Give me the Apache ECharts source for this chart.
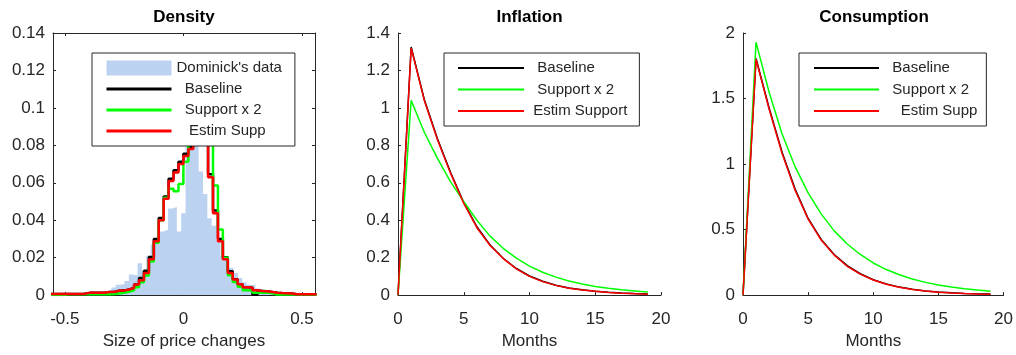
<!DOCTYPE html>
<html><head><meta charset="utf-8">
<script src="https://cdn.jsdelivr.net/npm/echarts@6/dist/echarts.min.js"></script>
<style>html,body{margin:0;padding:0;background:#fff}#c{width:1016px;height:355px}</style>
</head><body><div id="c"></div>
<script>
// ---------- Density panel data ----------
const MODEL_EDGES = [-0.5616,-0.5408,-0.52,-0.4992,-0.4784,-0.4576,-0.4368,-0.416,-0.3952,-0.3744,-0.3536,-0.3328,-0.312,-0.2912,-0.2704,-0.2496,-0.2288,-0.208,-0.1872,-0.1664,-0.1456,-0.1248,-0.104,-0.0832,-0.0624,-0.0416,-0.0208,0,0.0208,0.0416,0.0624,0.0832,0.104,0.1248,0.1456,0.1664,0.1872,0.208,0.2288,0.2496,0.2704,0.2912,0.312,0.3328,0.3536,0.3744,0.3952,0.416,0.4368,0.4576,0.4784,0.4992,0.52,0.5408,0.5616];
const ESTIM_DENS = [0.0006,0.0006,0.0006,0.0006,0.0006,0.0006,0.0007,0.0012,0.0012,0.0012,0.0013,0.0017,0.0017,0.0023,0.0024,0.0030,0.0038,0.0056,0.0079,0.0118,0.0192,0.0288,0.0400,0.0515,0.0610,0.0655,0.0700,
  0.0743,0.0780,0.0860,0.0900,0.0880,0.0630,0.0437,0.0288,0.0192,0.0118,0.0083,0.0058,0.0042,0.0040,0.0026,0.0022,0.0020,0.0017,0.0013,0.0011,0.0010,0.0009,0.0005,0.0004,0.0004,0.0004,0.0004];
const BASELINE_DENS = [0.0006,0.0006,0.0006,0.0006,0.0006,0.0006,0.0007,0.0012,0.0012,0.0012,0.0013,0.0017,0.0017,0.0023,0.0024,0.0030,0.0038,0.0056,0.0091,0.0130,0.0204,0.0300,0.0412,0.0527,0.0622,0.0667,0.0712,
  0.0755,0.0792,0.0870,0.0910,0.0890,0.0645,0.0452,0.0300,0.0202,0.0128,0.0085,0.0058,0.0042,0.0040,0.0002,0.0022,0.0020,0.0017,0.0013,0.0011,0.0010,0.0009,0.0005,0.0004,0.0004,0.0004,0.0004];
const SUPPORT2_DENS = [0,0,0.0002,0.0004,0.0004,0.0004,0.0004,0.0004,0.0004,0.0004,0.0004,0.0005,0.0006,0.0009,0.0012,0.0018,0.0026,0.0042,0.0068,0.0105,0.0180,0.0280,0.0400,0.0520,0.0568,0.0555,0.0594,
  0.0712,0.0900,0.1050,0.1100,0.1050,0.0950,0.0585,0.0350,0.0200,0.0106,0.0070,0.0045,0.0026,0.0024,0.0012,0.0012,0.0012,0.0010,0.0003,0.0003,0.0003,0.0003,0.0003,0.0003,0.0003,0.0003,0.0003];
const HIST_EDGES = [-0.5430,-0.5246,-0.5062,-0.4878,-0.4694,-0.4510,-0.4326,-0.4142,-0.3958,-0.3774,-0.3590,-0.3406,-0.3222,-0.3038,-0.2854,-0.2670,-0.2486,-0.2302,-0.2118,-0.1934,-0.1750,-0.1566,-0.1382,-0.1198,-0.1014,-0.0830,-0.0646,-0.0462,-0.0278,-0.0094,0.0090,0.0274,0.0458,0.0642,0.0826,0.1010,0.1194,0.1378,0.1562,0.1746,0.1930,0.2114,0.2298,0.2482,0.2666,0.2850,0.3034,0.3218,0.3402,0.3586,0.3770,0.3954,0.4138,0.4322,0.4506,0.4690,0.4874,0.5058,0.5242,0.5426];
const HIST_DENS = [0.0003,0.0003,0.0004,0.0005,0.0006,0.0008,0.0017,0.0017,0.0014,0.0012,
  0.0012,0.0016,0.0026,0.0040,0.0055,0.0058,0.0075,0.0110,0.0105,0.0170,
  0.0130,0.0210,0.0270,0.0290,0.0340,0.0350,0.0463,0.0470,0.0340,0.0437,
  0.0950,0.1050,0.1000,0.0660,0.0540,0.0410,0.0370,0.0290,0.0210,0.0200,
  0.0145,0.0118,0.0092,0.0068,0.0055,0.0052,0.0035,0.0026,0.0026,0.0022,
  0.0014,0.0017,0.0008,0.0005,0.0004,0.0003,0.0002,0.0002,0.0002];
const DENS_X_TICKS = [-0.5, 0, 0.5];

// ---------- Impulse responses ----------
const MONTHS = [0,1,2,3,4,5,6,7,8,9,10,11,12,13,14,15,16,17,18,19];
const INFL_BASE = [0,1.325,1.045,0.835,0.655,0.495,0.365,0.268,0.197,0.142,0.102,0.074,0.053,0.038,0.028,0.021,0.015,0.011,0.008,0.006];
const INFL_SUP2 = [0,1.04,0.87,0.73,0.605,0.50,0.40,0.315,0.25,0.197,0.155,0.122,0.096,0.075,0.059,0.046,0.036,0.028,0.022,0.016];
const INFL_EST  = [0,1.32,1.04,0.83,0.65,0.49,0.36,0.265,0.195,0.14,0.10,0.072,0.052,0.037,0.027,0.02,0.014,0.01,0.007,0.005];
const CONS_BASE = [0,1.805,1.43,1.09,0.81,0.585,0.425,0.31,0.225,0.163,0.117,0.085,0.061,0.044,0.032,0.023,0.017,0.013,0.01,0.008];
const CONS_SUP2 = [0,1.93,1.55,1.23,0.98,0.78,0.62,0.49,0.39,0.31,0.245,0.195,0.155,0.123,0.097,0.077,0.061,0.048,0.038,0.03];
const CONS_EST  = [0,1.80,1.42,1.08,0.80,0.58,0.42,0.305,0.22,0.16,0.115,0.083,0.06,0.043,0.031,0.022,0.016,0.012,0.009,0.007];

const TITLES = ['Density', 'Inflation', 'Consumption'];

// ---------- helpers ----------
const TXT = '#262626';
const FONT = "'Liberation Sans', Arial, Helvetica, sans-serif";
const BLUE = '#bcd2f1', BLACK = '#000000', GREEN = '#00ff00', RED = '#ff0000';

function stepData(edges, vals) {
  const d = vals.map((v, i) => [edges[i], v]);
  d.push([edges[vals.length], vals[vals.length - 1]]);
  return d;
}
function irf(vals) { return MONTHS.map((m, i) => [m, vals[i]]); }

const axisLine = { show: true, onZero: false, lineStyle: { color: TXT, width: 1 } };
const tick = { show: true, inside: true, length: 3, lineStyle: { color: TXT, width: 1 } };
const xLabel = { color: TXT, fontSize: 17, fontFamily: FONT, margin: 16 };
const yLabel = { color: TXT, fontSize: 17, fontFamily: FONT, margin: 8 };
const nameStyle = { color: TXT, fontSize: 17, fontFamily: FONT };

function lineSeries(name, data, color, width, xi, yi, step) {
  const s = { type: 'line', name, data, xAxisIndex: xi, yAxisIndex: yi, symbol: 'none',
    color, lineStyle: { color, width }, itemStyle: { color }, silent: true };
  if (step) s.step = 'end';
  return s;
}

function makeLegend(left, names, pad, padding, iconWidth, lineW, gap) {
  return {
    orient: 'vertical', left, top: 53, itemWidth: iconWidth, itemHeight: 15, itemGap: gap,
    padding, borderColor: TXT, borderWidth: 1, backgroundColor: '#ffffff', borderRadius: 0,
    selectedMode: false, z: 10,
    textStyle: { color: TXT, fontSize: 15, fontFamily: FONT },
    itemStyle: { opacity: 0 },
    lineStyle: { width: lineW, opacity: 1 },
    formatter: (n) => (pad[n] || '') + n,
    data: names
  };
}

const chart = echarts.init(document.getElementById('c'), null, { renderer: 'canvas' });
const titleFont = "bold 17px 'Liberation Sans', Arial, sans-serif";

const option = {
  animation: false,
  backgroundColor: '#ffffff',
  textStyle: { fontFamily: FONT },
  grid: [
    { left: 53, top: 33, width: 262, height: 267 },
    { left: 398, top: 33, width: 263, height: 268 },
    { left: 743, top: 33, width: 262, height: 267 }
  ],
  xAxis: [
    { type: 'value', gridIndex: 0, position: 'bottom', min: -0.55, max: 0.555,
      axisLine, axisTick: Object.assign({}, tick, { customValues: DENS_X_TICKS }),
      axisLabel: Object.assign({}, xLabel, { customValues: DENS_X_TICKS }),
      splitLine: { show: false },
      name: 'Size of price changes', nameLocation: 'middle', nameGap: 37, nameTextStyle: nameStyle },
    { type: 'value', gridIndex: 0, position: 'top', min: -0.55, max: 0.555,
      axisLine, axisTick: Object.assign({}, tick, { customValues: DENS_X_TICKS }),
      axisLabel: { show: false }, splitLine: { show: false } },
    { type: 'value', gridIndex: 1, min: 0, max: 20, interval: 5, axisLine, axisTick: tick,
      axisLabel: xLabel, splitLine: { show: false },
      name: 'Months', nameLocation: 'middle', nameGap: 37, nameTextStyle: nameStyle },
    { type: 'value', gridIndex: 2, min: 0, max: 20, interval: 5, axisLine, axisTick: tick,
      axisLabel: xLabel, splitLine: { show: false },
      name: 'Months', nameLocation: 'middle', nameGap: 37, nameTextStyle: nameStyle }
  ],
  yAxis: [
    { type: 'value', gridIndex: 0, position: 'left', min: 0, max: 0.14, interval: 0.02,
      axisLine, axisTick: tick, axisLabel: yLabel, splitLine: { show: false } },
    { type: 'value', gridIndex: 0, position: 'right', min: 0, max: 0.14, interval: 0.02,
      axisLine, axisTick: tick, axisLabel: { show: false }, splitLine: { show: false } },
    { type: 'value', gridIndex: 1, min: 0, max: 1.4, interval: 0.2,
      axisLine, axisTick: tick, axisLabel: yLabel, splitLine: { show: false } },
    { type: 'value', gridIndex: 2, min: 0, max: 2, interval: 0.5,
      axisLine, axisTick: tick, axisLabel: yLabel, splitLine: { show: false } }
  ],
  legend: [
    makeLegend(92, [
      { name: "Dominick's data", icon: 'rect', itemStyle: { color: BLUE, opacity: 1, borderWidth: 0 } },
      'Baseline', 'Support x 2', 'Estim Supp'
    ], { 'Baseline': '  ', 'Support x 2': '  ', 'Estim Supp': '   ' }, [7.5, 13, 7.5, 13], 65, 3, 6),
    makeLegend(444, ['Baseline', 'Support x 2', 'Estim Support'],
      { 'Baseline': '  ', 'Support x 2': '  ', 'Estim Support': ' ' }, [7.5, 12, 7.5, 13], 66, 2, 6.5),
    makeLegend(799, ['Baseline', 'Support x 2', 'Estim Supp'],
      { 'Baseline': '  ', 'Support x 2': '  ', 'Estim Supp': '    ' }, [7.5, 9, 7.5, 14], 65, 2, 6.5)
  ],
  graphic: [
    { type: 'text', x: 184, y: 17.5, silent: true, style: { text: TITLES[0], fill: '#000', font: titleFont, align: 'center', verticalAlign: 'middle' } },
    { type: 'text', x: 529.5, y: 17.5, silent: true, style: { text: TITLES[1], fill: '#000', font: titleFont, align: 'center', verticalAlign: 'middle' } },
    { type: 'text', x: 874, y: 17.5, silent: true, style: { text: TITLES[2], fill: '#000', font: titleFont, align: 'center', verticalAlign: 'middle' } }
  ],
  series: [
    { type: 'line', name: "Dominick's data", data: stepData(HIST_EDGES, HIST_DENS), step: 'end',
      xAxisIndex: 0, yAxisIndex: 0, symbol: 'none', color: BLUE, silent: true,
      lineStyle: { width: 0, opacity: 0 }, itemStyle: { color: BLUE },
      areaStyle: { color: BLUE, opacity: 1 } },
    lineSeries('Baseline', stepData(MODEL_EDGES, BASELINE_DENS), BLACK, 2.5, 0, 0, true),
    lineSeries('Support x 2', stepData(MODEL_EDGES, SUPPORT2_DENS), GREEN, 2.5, 0, 0, true),
    lineSeries('Estim Supp', stepData(MODEL_EDGES, ESTIM_DENS), RED, 2.5, 0, 0, true),

    lineSeries('Baseline', irf(INFL_BASE), BLACK, 1.5, 2, 2, false),
    lineSeries('Support x 2', irf(INFL_SUP2), GREEN, 1.5, 2, 2, false),
    lineSeries('Estim Support', irf(INFL_EST), RED, 1.5, 2, 2, false),

    lineSeries('Baseline', irf(CONS_BASE), BLACK, 1.5, 3, 3, false),
    lineSeries('Support x 2', irf(CONS_SUP2), GREEN, 1.5, 3, 3, false),
    lineSeries('Estim Supp', irf(CONS_EST), RED, 1.5, 3, 3, false)
  ]
};
chart.setOption(option);
</script>
</body></html>
